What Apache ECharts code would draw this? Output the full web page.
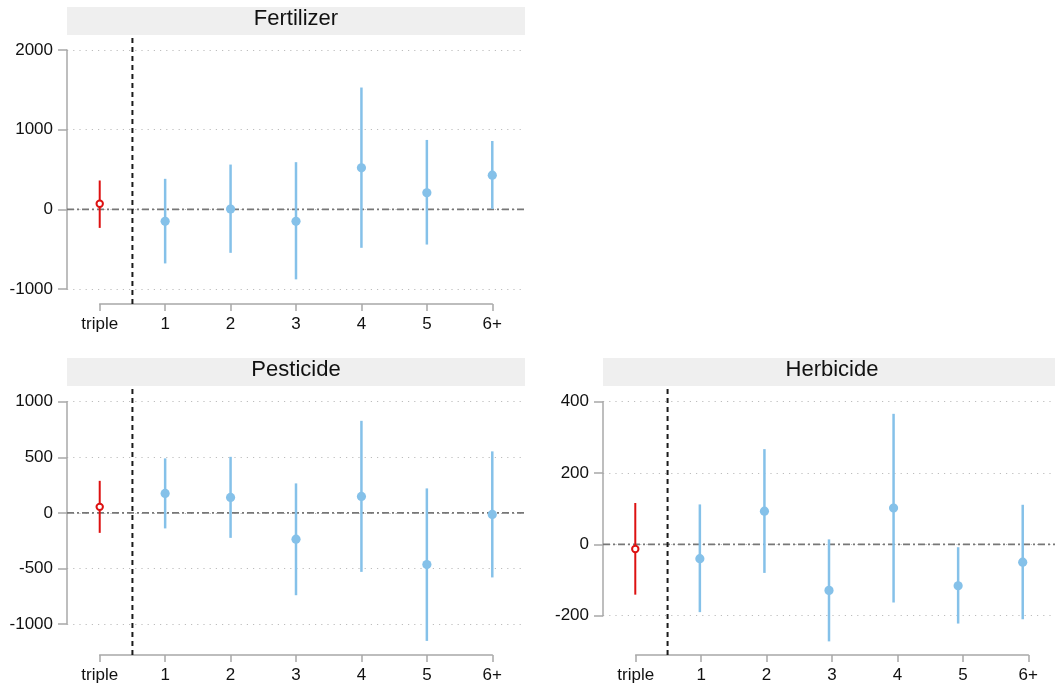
<!DOCTYPE html>
<html>
<head>
<meta charset="utf-8">
<title>Treatment effects by number of applications</title>
<script src="https://cdn.jsdelivr.net/npm/echarts@6/dist/echarts.min.js"></script>
<style>
  html, body { margin: 0; padding: 0; background: #ffffff; }
  #chart { width: 1055px; height: 688px; }
</style>
</head>
<body>
<div id="chart"></div>
<script>
// Categories along the x axis: the "triple" reference estimate, then counts 1..6+
const categories = ['triple', '1', '2', '3', '4', '5', '6+'];

// Fertilizer: point estimates with lower / upper confidence bounds
const fertEst = [71, -150, 4, -150, 521, 208, 429];
const fertLo  = [-233, -679, -546, -879, -483, -442, 5];
const fertHi  = [362, 383, 562, 592, 1529, 871, 858];
const fertTicks = [-1000, 0, 1000, 2000];

// Pesticide
const pestEst = [54, 175, 139, -237, 148, -465, -14];
const pestLo  = [-180, -140, -225, -741, -531, -1152, -581];
const pestHi  = [288, 490, 504, 265, 828, 220, 553];
const pestTicks = [-1000, -500, 0, 500, 1000];

// Herbicide
const herbEst = [-13, -40, 93, -129, 102, -116, -50];
const herbLo  = [-141, -190, -80, -272, -163, -222, -210];
const herbHi  = [116, 112, 267, 14, 366, -8, 111];
const herbTicks = [-200, 0, 200, 400];

const FONT = 'Liberation Sans, Arial, Helvetica, sans-serif';
const BLUE = '#85c1e9';
const RED = '#dd1111';
const AXIS_GREY = '#a8a8a8';

// Panel frames (pixels): plot box, pixel rows of the outer ticks, strip row
const panels = [
  { title: 'Fertilizer', est: fertEst, lo: fertLo, hi: fertHi, ticks: fertTicks,
    left: 67, width: 458, plotTop: 36, axisY: 304, tickTopPx: 50, tickBotPx: 289, stripTop: 7 },
  { title: 'Pesticide', est: pestEst, lo: pestLo, hi: pestHi, ticks: pestTicks,
    left: 67, width: 458, plotTop: 387, axisY: 655, tickTopPx: 401.7, tickBotPx: 624, stripTop: 358 },
  { title: 'Herbicide', est: herbEst, lo: herbLo, hi: herbHi, ticks: herbTicks,
    left: 603, width: 458, plotTop: 387, axisY: 655, tickTopPx: 401.7, tickBotPx: 615.7, stripTop: 358 }
];

function renderErrorBar(params, api) {
  const x = api.value(0);
  const est = api.value(1), lo = api.value(2), hi = api.value(3);
  const pLo = api.coord([x, lo]);
  const pHi = api.coord([x, hi]);
  const pE = api.coord([x, est]);
  const ref = x === 0;
  const color = ref ? RED : BLUE;
  return {
    type: 'group',
    children: [
      { type: 'line',
        shape: { x1: pLo[0], y1: pLo[1], x2: pHi[0], y2: pHi[1] },
        style: { stroke: color, lineWidth: ref ? 2 : 2.5 } },
      { type: 'circle',
        shape: { cx: pE[0], cy: pE[1], r: ref ? 3.2 : 4.6 },
        style: ref ? { fill: '#ffffff', stroke: RED, lineWidth: 2 } : { fill: BLUE } }
    ]
  };
}

const grid = [], xAxis = [], yAxis = [], series = [], graphic = [];

panels.forEach((p, i) => {
  const tMin = p.ticks[0], tMax = p.ticks[p.ticks.length - 1];
  const step = p.ticks[1] - p.ticks[0];
  const scale = (p.tickBotPx - p.tickTopPx) / (tMax - tMin);
  const yMax = tMax + (p.tickTopPx - p.plotTop) / scale;
  const yMin = tMin - (p.axisY - p.tickBotPx) / scale;
  const catW = p.width / 7;

  // data grid (hidden axes)
  const gData = grid.length;
  grid.push({ left: p.left, width: p.width, top: p.plotTop, height: p.axisY - p.plotTop });
  xAxis.push({ gridIndex: gData, type: 'value', min: -0.5, max: 6.5, show: false });
  yAxis.push({ gridIndex: gData, type: 'value', min: yMin, max: yMax, show: false });

  // y-axis grid: line, ticks, labels and dotted grid lines over the tick span
  const gY = grid.length;
  grid.push({ left: p.left, width: p.width, top: p.tickTopPx, height: p.tickBotPx - p.tickTopPx });
  xAxis.push({ gridIndex: gY, type: 'value', min: 0, max: 1, show: false });
  yAxis.push({
    gridIndex: gY, type: 'value', min: tMin, max: tMax, interval: step,
    axisLine: { show: true, lineStyle: { color: AXIS_GREY, width: 1.5 } },
    axisTick: { show: true, length: 9, lineStyle: { color: AXIS_GREY, width: 1.5 } },
    axisLabel: { fontSize: 17, color: '#111', margin: 14, fontFamily: FONT,
                 formatter: v => String(v) },
    splitLine: { show: true, lineStyle: { type: [1.2, 5], color: '#bdbdbd', width: 1 } }
  });

  // x-axis grid: category line from first to last category
  const gX = grid.length;
  grid.push({ left: p.left + catW / 2, width: catW * 6, top: p.axisY - 1, height: 1 });
  xAxis.push({
    gridIndex: gX, type: 'category', data: categories, boundaryGap: false,
    axisLine: { show: true, lineStyle: { color: AXIS_GREY, width: 1.5 } },
    axisTick: { show: true, length: 7, lineStyle: { color: AXIS_GREY, width: 1.5 } },
    axisLabel: { fontSize: 17, color: '#111', margin: 12, fontFamily: FONT, interval: 0 },
    splitLine: { show: false }
  });
  yAxis.push({ gridIndex: gX, type: 'value', show: false });

  const xIdx = gData, yIdx = gData;

  // zero reference line (dash-dot)
  series.push({
    type: 'line', xAxisIndex: xIdx, yAxisIndex: yIdx, silent: true, symbol: 'none',
    data: [[-0.5, 0], [6.5, 0]],
    lineStyle: { color: '#777777', width: 1.6, type: [7, 3, 2, 3] }, z: 2
  });
  // separator between reference estimate and counts
  series.push({
    type: 'line', xAxisIndex: xIdx, yAxisIndex: yIdx, silent: true, symbol: 'none',
    data: [[0.5, yMin], [0.5, yMax]],
    lineStyle: { color: '#1a1a1a', width: 2, type: [5, 4] }, z: 3
  });
  // estimates with confidence intervals
  series.push({
    type: 'custom', xAxisIndex: xIdx, yAxisIndex: yIdx, renderItem: renderErrorBar,
    data: categories.map((c, k) => [k, p.est[k], p.lo[k], p.hi[k]]),
    clip: false, z: 5
  });

  // facet strip with panel title
  graphic.push({
    type: 'rect', left: p.left, top: p.stripTop, silent: true,
    shape: { width: p.width, height: 28 },
    style: { fill: '#efefef' }
  });
  graphic.push({
    type: 'text', silent: true,
    x: p.left + p.width / 2, y: p.stripTop + 12,
    style: { text: p.title, fontSize: 22, fontFamily: FONT, fill: '#111',
             align: 'center', verticalAlign: 'middle' }
  });
});

const chart = echarts.init(document.getElementById('chart'), null, { renderer: 'canvas' });
chart.setOption({
  animation: false,
  backgroundColor: '#ffffff',
  grid, xAxis, yAxis, series, graphic
});
</script>
</body>
</html>
